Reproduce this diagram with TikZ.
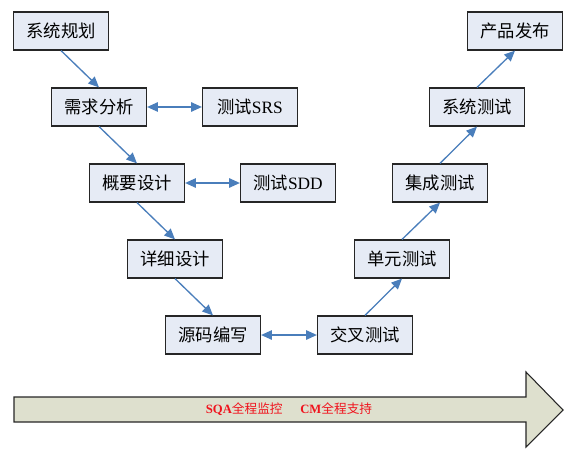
\documentclass[tikz,border=0pt]{standalone}
\usepackage{fontspec}
\setmainfont{Liberation Serif}
\newfontfamily\cjk{Noto Sans CJK SC}
\usetikzlibrary{arrows.meta}
\definecolor{boxfill}{HTML}{E6EBF5}
\definecolor{linkblue}{HTML}{4A7EBB}
\definecolor{bigfill}{HTML}{DEE0CE}
\definecolor{redtext}{HTML}{F0141E}
\tikzset{
  stagebox/.style={draw=black!85, line width=0.9pt, fill=boxfill, minimum width=71.25pt, minimum height=28.5pt, inner sep=0pt, font=\fontsize{13pt}{15pt}\selectfont},
  link/.style={draw=linkblue, line width=1pt, -{Triangle[length=8pt,width=7pt]}},
  dlink/.style={draw=linkblue, line width=1pt, {Triangle[length=8pt,width=7pt]}-{Triangle[length=8pt,width=7pt]}},
}
\begin{document}
\begin{tikzpicture}[x=0.75pt,y=-0.75pt]
\useasboundingbox (0,0) rectangle (577,456);
% big arrow
\draw[fill=bigfill, draw=black!85, line width=0.8pt]
  (14,397) -- (526,397) -- (526,372) -- (563,410) -- (526,447) -- (526,422) -- (14,422) -- cycle;
\node[text=redtext, font=\bfseries\fontsize{9.5pt}{11pt}\selectfont] (bar) at (289,409)
  {SQA{\mdseries\cjk 全程监控}\hspace{1.4em}CM{\mdseries\cjk 全程支持}};
% nodes
\node[stagebox] (plan) at (61,31) {\cjk 系统规划};
\node[stagebox] (req) at (99,107) {\cjk 需求分析};
\node[stagebox] (srs) at (250,107) {{\cjk 测试}SRS};
\node[stagebox] (hld) at (137,183) {\cjk 概要设计};
\node[stagebox] (sdd) at (288,183) {{\cjk 测试}SDD};
\node[stagebox] (lld) at (175,259) {\cjk 详细设计};
\node[stagebox] (code) at (213,335) {\cjk 源码编写};
\node[stagebox] (cross) at (365,335) {\cjk 交叉测试};
\node[stagebox] (unit) at (402,259) {\cjk 单元测试};
\node[stagebox] (integ) at (440,183) {\cjk 集成测试};
\node[stagebox] (sys) at (477,107) {\cjk 系统测试};
\node[stagebox] (rel) at (515,31) {\cjk 产品发布};
% connectors
\draw[link] (plan.south) -- (req.north);
\draw[link] (req.south) -- (hld.north);
\draw[link] (hld.south) -- (lld.north);
\draw[link] (lld.south) -- (code.north);
\draw[link] (cross.north) -- (unit.south);
\draw[link] (unit.north) -- (integ.south);
\draw[link] (integ.north) -- (sys.south);
\draw[link] (sys.north) -- (rel.south);
\draw[dlink] (req.east) -- (srs.west);
\draw[dlink] (hld.east) -- (sdd.west);
\draw[dlink] (code.east) -- (cross.west);
\end{tikzpicture}
\end{document}
